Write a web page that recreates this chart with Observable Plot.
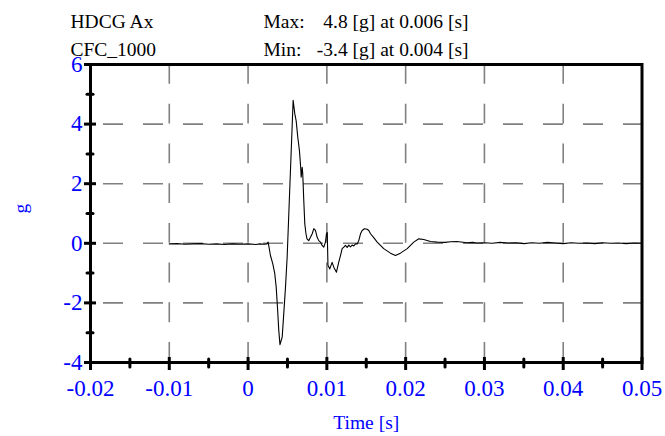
<!DOCTYPE html>
<html><head><meta charset="utf-8">
<script src="https://cdn.jsdelivr.net/npm/d3@7"></script>
<script src="https://cdn.jsdelivr.net/npm/@observablehq/plot@0.6"></script>
<style>html,body{margin:0;padding:0;background:#fff;}</style>
</head><body><div id="chart"></div>
<script>
const time = [-0.0100,-0.0090,-0.0080,-0.0070,-0.0060,-0.0050,-0.0040,-0.0030,-0.0020,-0.0010,0.0000,0.0010,0.0015,0.0020,0.0024,
0.00255,0.00284,0.00314,0.00339,0.00357,0.00373,0.0039,0.00405,0.00433,0.00453,0.00475,0.00496,0.00509,0.00572,0.00593,
0.0061,0.00631,0.00652,0.00669,0.00674,0.00687,0.00694,0.00707,0.0072,0.00735,0.00748,0.0077,0.00792,0.00814,0.00834,
0.00855,0.00877,0.00897,0.00919,0.0094,0.00961,0.00982,0.00995,0.01005,0.01014,0.01037,0.01067,0.01088,0.01122,0.01151,
0.01173,0.01194,0.01215,0.01236,0.01258,0.01278,0.013,0.01321,0.01342,0.01363,0.01385,0.01405,0.01427,0.01448,0.01477,
0.01512,0.01532,0.01554,0.01595,0.01639,0.01722,0.01807,0.01871,0.01934,0.0202,0.02103,0.02167,0.0223,0.02315,0.024,
0.025,0.0257,0.0265,0.0278,0.0285,0.029,0.030,0.031,0.032,0.033,0.034,0.035,0.036,0.037,0.038,0.039,0.040,0.041,0.042,
0.043,0.044,0.045,0.046,0.047,0.048,0.049,0.050];
const accel = [-0.02,-0.01,-0.03,-0.02,-0.01,-0.03,-0.02,-0.04,-0.02,-0.03,-0.02,-0.04,-0.02,-0.03,-0.02,
0.04,-0.41,-0.69,-1.02,-1.47,-2.14,-2.93,-3.40,-3.15,-2.36,-1.47,-0.47,0.43,4.80,4.35,
4.12,3.56,3.11,2.50,2.22,2.55,2.33,1.44,0.65,0.32,0.15,0.09,0.20,0.32,0.49,
0.43,0.20,0.09,0.04,-0.07,-0.13,0.04,0.32,0.36,-0.74,-0.86,-0.64,-0.80,-0.97,-0.63,
-0.41,-0.18,-0.13,-0.07,-0.14,-0.06,-0.12,-0.06,-0.09,-0.02,-0.02,0.09,0.32,0.43,0.49,
0.47,0.43,0.32,0.19,0.04,-0.18,-0.33,-0.41,-0.33,-0.18,0.04,0.15,0.13,0.06,0.04,
0.03,0.05,0.06,0.02,0.03,0.01,0.02,0.00,0.03,0.01,0.02,-0.01,0.02,0.00,0.03,0.01,-0.01,0.02,0.00,
0.01,-0.01,0.02,0.00,0.01,-0.01,0.01,0.00];
const xTicks = [-0.02,-0.01,0,0.01,0.02,0.03,0.04,0.05];
const xMinor = [-0.015,-0.005,0.005,0.015,0.025,0.035,0.045];
const yTicks = [-4,-2,0,2,4,6];
const yMinor = [-3,-1,1,3,5];
const titleLeft = ["HDCG Ax","CFC_1000"];
const statLabels = ["Max:","Min:"];
const statValues = ["4.8 [g] at 0.006 [s]","-3.4 [g] at 0.004 [s]"];
const xLabel = "Time [s]";
const yLabel = "g";

const data = time.map((t,i)=>({t, g: accel[i]}));
const W=665,H=436,mL=90,mT=64,mR=23.5,mB=74;
const fw=W-mL-mR, fh=H-mT-mB;
const fmt = d => String(+d.toFixed(2));
const blue = "#0000ff";
const chart = Plot.plot({
  width:W, height:H, marginLeft:mL, marginTop:mT, marginRight:mR, marginBottom:mB,
  style:{fontFamily:"'Liberation Serif','Times New Roman',serif", background:"#fff", overflow:"visible"},
  x:{domain:[-0.02,0.05], axis:null},
  y:{domain:[-4,6], axis:null},
  marks:[
    Plot.ruleY(yTicks.slice(1,-1),{y:d=>d, stroke:"#808080", strokeWidth:1.6, strokeDasharray:"20,20", strokeDashoffset:27}),
    Plot.ruleX(xTicks.slice(1,-1),{x:d=>d, stroke:"#808080", strokeWidth:1.6, strokeDasharray:"19.86,19.86"}),
    Plot.line(data,{x:"t", y:"g", stroke:"black", strokeWidth:1.1}),
    Plot.frame({stroke:"black", strokeWidth:3}),
    Plot.tickX(xTicks,{x:d=>d, insetTop:fh-5, insetBottom:-8, stroke:"black", strokeWidth:3}),
    Plot.tickX(xMinor,{x:d=>d, insetTop:fh-3, insetBottom:-5, stroke:"black", strokeWidth:3, strokeLinecap:"round"}),
    Plot.tickY(yTicks,{y:d=>d, insetLeft:-6, insetRight:fw-6, stroke:"black", strokeWidth:3}),
    Plot.tickY(yMinor,{y:d=>d, insetLeft:-3, insetRight:fw-3, stroke:"black", strokeWidth:3, strokeLinecap:"round"}),
    Plot.text(xTicks,{x:d=>d, text:fmt, frameAnchor:"bottom", dy:33, lineAnchor:"bottom", fill:blue, fontSize:23}),
    Plot.text(yTicks,{y:d=>d, text:fmt, frameAnchor:"left", dx:-8, textAnchor:"end", fill:blue, fontSize:23}),
    Plot.text([titleLeft.join("\n")],{text:d=>d, frameAnchor:"top-left", dx:-20, dy:-9, lineAnchor:"bottom", textAnchor:"start", lineHeight:1.436, fill:"black", fontSize:19.5}),
    Plot.text([statLabels.join("\n")],{text:d=>d, frameAnchor:"top-left", dx:173, dy:-9, lineAnchor:"bottom", textAnchor:"start", lineHeight:1.436, fill:"black", fontSize:19.5}),
    Plot.text([statValues.join("\n")],{text:d=>d, frameAnchor:"top-left", dx:378, dy:-9, lineAnchor:"bottom", textAnchor:"end", lineHeight:1.436, fill:"black", fontSize:19.5}),
    Plot.text([xLabel],{text:d=>d, frameAnchor:"bottom", dy:66, lineAnchor:"bottom", fill:blue, fontSize:19.5}),
    Plot.text([yLabel],{text:d=>d, frameAnchor:"left", dx:-70, rotate:-90, fill:blue, fontSize:19.5})
  ]
});
document.getElementById("chart").appendChild(chart);
</script>
</body></html>
